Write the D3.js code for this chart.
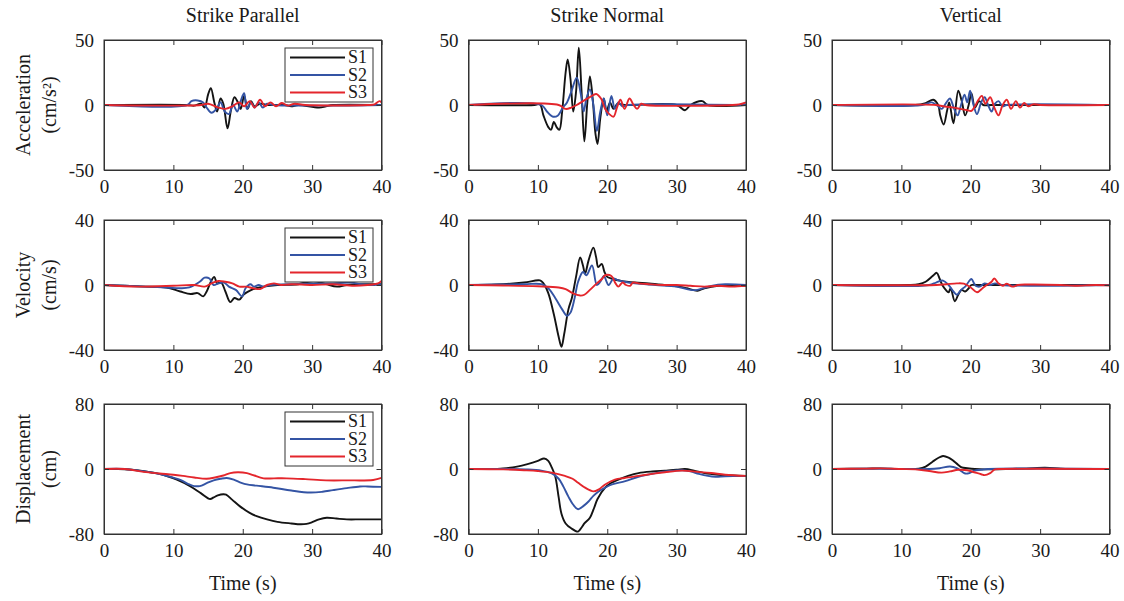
<!DOCTYPE html>
<html>
<head>
<meta charset="utf-8">
<script src="https://cdn.jsdelivr.net/npm/d3@7"></script>
<style>
  html, body { margin: 0; padding: 0; background: #fff; }
  svg { display: block; }
  svg text { font-family: "Liberation Serif", "Times New Roman", "DejaVu Serif", serif; }
</style>
</head>
<body>
<svg id="chart" width="1124" height="601"></svg>
<script>
// Ground-motion records at three stations: [time (s), value]
const stations = ["S1", "S2", "S3"];
const stationColors = ["#141414", "#3454a4", "#e4262c"];
const columnTitles = ["Strike Parallel", "Strike Normal", "Vertical"];
const rowTitles = [["Acceleration", "(cm/s²)"], ["Velocity", "(cm/s)"], ["Displacement", "(cm)"]];
const rowLimits = [50, 40, 80];
const xTicks = [0, 10, 20, 30, 40];
const xLabel = "Time (s)";

// Acceleration (cm/s²)
const accParS1 = [[0,0],[12,0],[13,-0.5],[14,1],[14.5,-2],[15,8],[15.4,13],[15.9,2],[16.3,-5],[16.8,5],[17.2,1],[17.8,-18],[18.3,-4],[18.8,6],[19.3,2],[19.7,-3],[20.2,7],[20.7,-3],[21.2,3],[21.7,-1],[22.5,1],[23.5,0],[26,0],[27,-1],[28,0],[31,-2],[32,-1],[33,0],[40,0]];
const accParS2 = [[0,0],[12,0],[12.6,3],[13.5,3.5],[14.3,2],[14.8,-2],[15.5,-6],[16.2,-3],[16.8,2],[17.4,-5],[18,-7],[18.6,0],[19.2,-5],[19.7,3],[20.2,9],[20.6,-3],[21.2,2],[21.7,-2],[22.3,2],[22.9,-2],[23.5,1],[24.5,0],[40,0]];
const accParS3 = [[0,0],[14,0],[15,1],[16.5,-2],[17.5,-3],[18.5,-1],[19.5,2],[20.2,-1],[21,3],[21.7,-2],[22.5,4],[23.2,-1],[24,2],[24.8,-1],[25.6,1.5],[26.5,-0.5],[27.5,1],[29,0],[38,0],[39,0.5],[39.7,3],[40,2]];
const accNorS1 = [[0,0],[9.5,0],[10.3,0.5],[10.8,-8],[11.5,-17],[11.9,-19],[12.3,-13],[12.7,-17],[13.1,-19],[13.5,-5],[14,25],[14.3,35],[14.7,20],[15.1,-5],[15.5,10],[15.9,44],[16.3,10],[16.7,-28],[17.1,0],[17.5,22],[17.9,5],[18.3,-22],[18.6,-30],[19,-10],[19.5,5],[19.9,-5],[20.4,2],[20.9,-3],[21.5,1],[22.5,0],[30,0],[31.2,-4],[32,0],[33.7,3],[34.5,0],[40,0]];
const accNorS2 = [[0,0],[10.5,0],[11.3,-5],[12.2,-9],[12.9,-8],[13.6,-2],[14.2,2],[14.8,10],[15.6,21],[16.2,8],[16.6,-5],[17,5],[17.5,12],[18,0],[18.5,-20],[19,-5],[19.5,5],[20,-8],[20.6,7],[21.1,-3],[21.6,2],[22.2,-1],[23,0],[40,0]];
const accNorS3 = [[0,0],[13,0],[14,-3],[14.8,-2],[15.6,0],[16.5,3],[17.5,6],[18.4,8.5],[19.1,5],[19.7,-3],[20.3,-7],[20.9,-9],[21.4,-2],[21.9,4],[22.5,-3],[23.2,5],[23.8,0],[24.3,-3],[24.9,1],[25.5,0],[38,0],[39,0.5],[40,2]];
const accVerS1 = [[0,0],[12,0],[13.5,1.5],[14.6,4],[15.3,0],[15.6,-8],[16.1,-15],[16.6,-4],[16.9,2],[17.5,-14],[18.2,11],[18.7,3],[19.2,-8],[19.7,0],[20.1,9],[20.6,-2],[21.2,3],[21.8,0],[23,0],[40,0]];
const accVerS2 = [[0,0],[13,0],[14.4,2],[15.3,-1],[15.8,-3],[16.5,2],[17,5],[17.6,-3],[18.1,-8],[18.6,0],[19.1,8],[19.5,2],[19.9,11],[20.4,0],[20.9,-7],[21.5,2],[22,6],[22.5,0],[23,-5],[23.5,1],[24,3],[24.6,-1],[25.2,0],[40,0]];
const accVerS3 = [[0,0],[15,0],[16,-1],[17.5,-2],[18.5,-3],[19.5,-4],[20.1,-4.5],[20.6,-1],[21,3],[21.6,7],[22.1,1],[22.8,6],[23.4,-2],[24,-8],[24.6,0],[25.2,4],[25.8,-3],[26.5,3],[27.1,-2],[27.7,1.5],[28.3,-1],[29,0.5],[30,0],[40,0]];

// Velocity (cm/s)
const velParS1 = [[0,0],[3,-0.5],[6,-1],[9,-1.5],[11,-4],[12.5,-5.5],[13.5,-5],[14.3,-7],[14.8,-4],[15.4,2],[15.9,5],[16.3,1],[16.9,1.5],[17.5,-4],[18.2,-10.5],[18.8,-8],[19.5,-9],[20.1,-6],[20.6,-4.5],[21.5,-2.5],[23,-1],[25,0],[28,0.5],[30.2,2.5],[32,0.5],[33.6,-1],[35,0],[37,0.5],[40,0.5]];
const velParS2 = [[0,0],[3,-0.5],[6,-1],[9,-1.5],[11,-2],[12.3,-1.5],[13.8,2],[14.5,4.5],[15.2,4],[15.8,0],[16.5,1],[17.3,1.5],[18,-1],[19,-3],[19.9,-7],[20.4,-2],[21.1,0.5],[21.6,-1],[22.3,0],[23,-1],[24,0],[27,0.5],[30,1],[33,1],[35.5,1.5],[37,0.5],[39,0],[40,0.5]];
const velParS3 = [[0,0],[5,-1],[10,-0.5],[13,0],[14.5,-1],[15.5,1],[16.5,2.5],[17.5,2],[18.5,1],[19.5,-1],[20.5,-1],[21.5,-2],[22.5,-2.5],[23.5,0],[24.5,1],[25.5,0],[27,0.5],[30,0],[33,0.5],[36,-0.5],[38,0],[39.5,1],[40,2.5]];
const velNorS1 = [[0,0],[4,0.3],[8,1.5],[10.3,2.8],[10.8,1],[11.5,-5],[12.3,-18],[13,-32],[13.4,-38],[13.8,-30],[14.4,-15],[14.9,-8],[15.5,5],[16.1,17],[16.5,12],[16.8,7],[17.3,15],[18,23],[18.4,17],[18.7,11],[19.2,13],[19.6,8],[20,5],[20.6,4],[22,2.5],[24,1.5],[26,1],[28.3,0],[30.3,-1],[31.5,-2],[33,-3.5],[34,-2],[36,-0.5],[38,-0.5],[40,-0.5]];
const velNorS2 = [[0,0],[8,0.5],[10.5,0.5],[11.5,-2],[12.5,-8],[13.5,-15],[14.2,-19],[14.7,-17],[15.3,-8],[15.8,2],[16.5,8],[17,6],[17.8,12],[18.5,0],[19,2],[19.5,5.5],[20.2,0],[20.9,4],[21.5,3],[22.5,2],[24,1],[27,0],[30,-1],[32,-3],[33,-3],[35,-0.5],[37,0.5],[40,0]];
const velNorS3 = [[0,0],[5,-0.3],[10,-0.8],[13,-1.5],[14,-2.5],[15,-5],[16.1,-6.5],[16.7,-6],[17.5,-3],[18.5,1],[19.3,4],[19.7,6],[20.6,5.5],[21.2,1],[21.6,-1],[22.2,1.5],[22.7,0],[23.3,-0.5],[23.7,1.5],[24.5,1],[26,0.5],[28,0],[30,0],[32,-0.5],[34,-1],[36,-0.5],[38,-1],[40,-0.5]];
const velVerS1 = [[0,0],[11,0],[12.5,0.5],[13.5,2],[14.5,5.5],[15.1,7.5],[15.5,4],[15.9,0],[16.4,-3],[16.8,-4.5],[17.1,-2],[17.7,-10],[18.2,-6],[18.7,-3],[19.2,-4],[19.7,-2],[20.1,0],[21,0],[40,0]];
const velVerS2 = [[0,0],[14,0],[15,1.5],[16,2.7],[16.8,0],[17.5,-4],[18,-6],[18.6,-3],[19.2,-1],[19.7,2],[20.1,3.7],[20.7,-0.5],[21.3,-1],[22,1],[22.8,0],[23.5,1],[24.5,0],[40,0]];
const velVerS3 = [[0,0],[15,0],[16.5,0.5],[18,1],[19,0.8],[20,-1.5],[20.9,-4.5],[21.7,-2],[22.3,0],[23,2],[23.4,4],[24,1],[24.6,-0.5],[25.2,0.8],[26,-1],[26.8,0],[28,0.3],[33,0],[35,-0.5],[38,0],[40,-0.3]];

// Displacement (cm)
const dispParS1 = [[0,0],[2,0],[4,-1],[6,-3],[8,-6],[9,-8.5],[10.5,-13],[12.4,-21],[14,-30],[15.3,-37],[15.8,-35],[16.4,-32.5],[17.2,-31],[17.6,-31.5],[18.5,-38],[19.6,-46],[21,-54],[22,-58],[23.5,-62],[25,-65],[27,-67],[28.3,-68],[29.2,-67.5],[30,-65.5],[31,-62],[32.1,-60],[33.5,-61],[35,-62],[37,-62],[40,-62]];
const dispParS2 = [[0,0],[3,0],[5,-2],[7,-4.5],[9,-8.5],[11,-13.5],[12.3,-19],[13,-21],[13.8,-21],[14.8,-17.5],[15.8,-14],[16.8,-12],[17.7,-11],[18.7,-13],[19.8,-17],[20.6,-19],[22,-20.5],[24.4,-23],[27,-26.5],[29.7,-29],[31.5,-28],[33,-26],[35,-23.5],[36.9,-21.5],[38,-21.5],[40,-22]];
const dispParS3 = [[0,0],[3,0],[5.7,-3.5],[8,-5.5],[10,-7],[11.4,-8.5],[13,-10.5],[14.8,-12],[16,-10.5],[17.2,-8],[18.2,-5],[19.3,-4],[20.6,-5],[21.5,-7.5],[23,-11.5],[24.5,-11.5],[26.3,-11.5],[29,-12.5],[32,-14],[35,-14],[38.8,-13.5],[40,-11]];
const dispNorS1 = [[0,0],[3,0],[5,0.8],[7,3],[8.5,6],[10,10],[10.9,13],[11.5,10],[12,2],[12.5,-9],[13,-35],[13.4,-55],[14,-67],[14.8,-73],[15.8,-77],[16.3,-72],[16.7,-67],[17.5,-60],[18.1,-48],[18.6,-37],[19.7,-23],[20.6,-17],[21.6,-13],[23,-8.5],[24.5,-5],[26.5,-3],[28.3,-2],[30,-1],[31.2,0],[32.5,-2],[34,-5],[36,-7],[38,-8],[40,-8.5]];
const dispNorS2 = [[0,0],[5,0],[8.2,-0.5],[10.5,-2],[12,-5.5],[13,-12],[13.7,-22],[14.4,-34],[15.1,-44],[15.8,-49.5],[16.5,-46],[17.3,-40],[18,-33],[18.7,-28],[19.7,-23],[20.7,-19],[22.6,-15],[24.5,-9.5],[27,-5],[29,-2.5],[30.8,-1.5],[32,-3],[33.2,-6],[34.5,-8.5],[35.6,-9.6],[37,-9],[40,-8.5]];
const dispNorS3 = [[0,0],[5,-0.5],[8,-1.5],[10,-2.5],[12,-4.5],[13.9,-8.5],[15,-12],[15.8,-17],[16.8,-23],[18,-27.5],[18.8,-25],[19.7,-19],[21.1,-13],[22.5,-11],[24.5,-8.5],[26.5,-6],[28.3,-4],[30.8,-2],[33,-3.5],[35,-5],[37,-7],[40,-8.5]];
const dispVerS1 = [[0,0],[5,0.5],[7,0.8],[10,0],[12.5,0.3],[13.5,3],[14.5,9],[15.3,13.5],[16,16],[16.8,14],[17.5,10],[18.2,5],[18.7,2],[19.5,1],[20.6,0],[22,-0.5],[25,0],[28,0.5],[30.7,1.5],[33,0.5],[36,0],[40,0]];
const dispVerS2 = [[0,0],[5,0.5],[10,0],[14,0],[15.5,1],[17,3],[18,1],[18.7,-3],[19.2,-5.5],[19.8,-5],[20.5,-2],[21.5,-1],[22.5,0],[40,0]];
const dispVerS3 = [[0,0],[5,0.5],[7,0.8],[10,0],[12,-0.5],[14,-2.5],[15.8,-4.5],[17,-3],[18.2,-1],[19.5,-1.5],[20.5,-4],[21.5,-6.5],[22,-7.5],[22.8,-5],[23.5,-0.5],[24.5,0],[40,0]];

// Panel grid: rows = quantity, columns = component
const panels = [
  [[accParS1, accParS2, accParS3], [accNorS1, accNorS2, accNorS3], [accVerS1, accVerS2, accVerS3]],
  [[velParS1, velParS2, velParS3], [velNorS1, velNorS2, velNorS3], [velVerS1, velVerS2, velVerS3]],
  [[dispParS1, dispParS2, dispParS3], [dispNorS1, dispNorS2, dispNorS3], [dispVerS1, dispVerS2, dispVerS3]]
];

const colLeft = [104, 468.5, 832];
const plotW = 277.5;
const rowTop = [40, 220, 404];
const plotH = 130;

const serif = "'Liberation Serif', 'Times New Roman', 'DejaVu Serif', serif";
const svg = d3.select("#chart");
const tickFont = 19;
const plain = d => String(d);   // "-50" with an ASCII hyphen

panels.forEach((rowPanels, r) => {
  const lim = rowLimits[r];
  rowPanels.forEach((series, c) => {
    const g = svg.append("g").attr("transform", `translate(${colLeft[c]},${rowTop[r]})`);
    const x = d3.scaleLinear().domain([0, 40]).range([0, plotW]);
    const y = d3.scaleLinear().domain([-lim, lim]).range([plotH, 0]);

    // clip lines to the plot box
    const clipId = `clip-${r}-${c}`;
    g.append("clipPath").attr("id", clipId)
      .append("rect").attr("width", plotW).attr("height", plotH);

    const line = d3.line()
      .x(d => x(d[0]))
      .y(d => y(d[1]))
      .curve(d3.curveCatmullRom.alpha(0.5));

    const lines = g.append("g").attr("clip-path", `url(#${clipId})`);
    series.forEach((s, i) => {
      lines.append("path")
        .datum(s)
        .attr("fill", "none")
        .attr("stroke", stationColors[i])
        .attr("stroke-width", 1.9)
        .attr("stroke-linejoin", "round")
        .attr("d", line);
    });

    // axes with inward ticks on all four sides
    const bottom = g.append("g").attr("transform", `translate(0,${plotH})`)
      .call(d3.axisBottom(x).tickValues(xTicks).tickFormat(plain).tickSizeInner(-5).tickSizeOuter(0).tickPadding(10));
    const top = g.append("g")
      .call(d3.axisTop(x).tickValues(xTicks).tickSizeInner(-5).tickSizeOuter(0).tickFormat(""));
    const left = g.append("g")
      .call(d3.axisLeft(y).tickValues([-lim, 0, lim]).tickFormat(plain).tickSizeInner(-5).tickSizeOuter(0).tickPadding(10));
    const right = g.append("g").attr("transform", `translate(${plotW},0)`)
      .call(d3.axisRight(y).tickValues([-lim, 0, lim]).tickSizeInner(-5).tickSizeOuter(0).tickFormat(""));

    [bottom, top, left, right].forEach(a => {
      a.attr("font-family", serif);
      a.selectAll("path").attr("stroke", "#333").attr("stroke-width", 1);
      a.selectAll("line").attr("stroke", "#333").attr("stroke-width", 1);
      a.selectAll("text")
        .attr("fill", "#1a1a1a")
        .attr("font-family", serif)
        .attr("font-size", tickFont);
    });
    bottom.selectAll("text").attr("dy", "0.71em");

    g.append("rect")
      .attr("width", plotW).attr("height", plotH)
      .attr("fill", "none").attr("stroke", "#333").attr("stroke-width", 1);

    // legend in the first column
    if (c === 0) {
      const lg = g.append("g").attr("transform", `translate(${plotW - 96.5},8)`);
      lg.append("rect").attr("width", 88).attr("height", 54)
        .attr("fill", "#fff").attr("stroke", "#333").attr("stroke-width", 1);
      stations.forEach((name, i) => {
        const yy = 9.5 + i * 17.5;
        lg.append("line").attr("x1", 5).attr("x2", 60).attr("y1", yy).attr("y2", yy)
          .attr("stroke", stationColors[i]).attr("stroke-width", 1.9);
        lg.append("text").attr("x", 63).attr("y", yy).attr("dy", "0.33em")
          .attr("font-family", serif).attr("font-size", 18).attr("fill", "#1a1a1a").text(name);
      });
    }

    if (r === 0) {
      svg.append("text")
        .attr("x", colLeft[c] + plotW / 2).attr("y", 22)
        .attr("text-anchor", "middle")
        .attr("font-family", serif).attr("font-size", 20).attr("fill", "#1a1a1a")
        .text(columnTitles[c]);
    }
    if (r === 2) {
      svg.append("text")
        .attr("x", colLeft[c] + plotW / 2).attr("y", 590)
        .attr("text-anchor", "middle")
        .attr("font-family", serif).attr("font-size", 20).attr("fill", "#1a1a1a")
        .text(xLabel);
    }
  });

  // row titles, rotated
  const cy = rowTop[r] + plotH / 2;
  const t = svg.append("text")
    .attr("transform", `translate(34,${cy}) rotate(-90)`)
    .attr("text-anchor", "middle")
    .attr("font-family", serif).attr("font-size", 20).attr("fill", "#1a1a1a");
  t.append("tspan").attr("x", 0).attr("dy", "-0.2em").text(rowTitles[r][0]);
  t.append("tspan").attr("x", 0).attr("dy", "1.3em").text(rowTitles[r][1]);
});
</script>
</body>
</html>
